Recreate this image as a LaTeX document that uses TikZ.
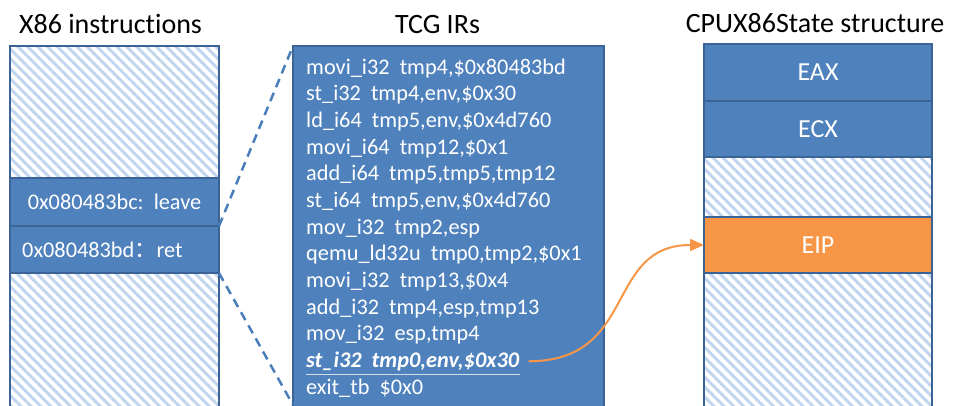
\documentclass[tikz,border=0pt]{standalone}
\usepackage{fontspec}
\setmainfont[Ligatures={NoCommon,NoRequired}]{Carlito}
\newfontfamily\cjkfont{Noto Sans CJK SC}
\usetikzlibrary{patterns.meta,arrows.meta,calc}
\definecolor{boxblue}{HTML}{4F81BD}
\definecolor{edgeblue}{HTML}{3B6395}
\definecolor{hatchblue}{HTML}{C2D5EE}
\definecolor{eiporange}{HTML}{F79646}
\definecolor{dashblue}{HTML}{4A7EBB}
\definecolor{ulgray}{HTML}{D6DCE6}
\begin{document}
\begin{tikzpicture}[x=1pt,y=-1pt,
  cell/.style={draw=edgeblue,line width=2.5pt,fill=boxblue,anchor=north west,inner sep=0pt,outer sep=0pt},
  hatchcell/.style={draw=edgeblue,line width=2.5pt,pattern={Lines[angle=-45,distance=7pt,line width=3pt]},pattern color=hatchblue,anchor=north west,inner sep=0pt,outer sep=0pt},
  title/.style={anchor=base,font=\fontsize{28}{30}\selectfont,text=black,inner sep=0pt},
  ir/.style={anchor=base west,font=\fontsize{22.3}{26}\selectfont,text=white,inner sep=0pt},
  lbl/.style={font=\fontsize{22.3}{26}\selectfont,text=white,inner sep=0pt},
  reg/.style={font=\fontsize{26}{28}\selectfont,text=white,inner sep=0pt},
  dashline/.style={dashblue,line width=2.5pt,dash pattern=on 9pt off 6pt},
  flow/.style={eiporange,line width=2pt,-{Triangle[length=14pt,width=12pt]}}]
\useasboundingbox (0,0) rectangle (954,405);
\clip (0,0) rectangle (954,405);
% titles
\node[title] (t1) at (110.5,33) {X86 instructions};
\node[title] (t2) at (437.5,33) {TCG IRs};
\node[title] (t3) at (815,32) {CPUX86State structure};
% left column
\node[hatchcell,minimum width=209pt,minimum height=132pt] (xtop) at (10,46) {};
\node[hatchcell,minimum width=209pt,minimum height=150pt] (xbot) at (10,273) {};
\node[cell,minimum width=209pt,minimum height=48pt] (leave) at (10,178) {};
\node[cell,minimum width=209pt,minimum height=47pt] (ret) at (10,226) {};
\node[lbl] (leavetxt) at (leave.center) {0x080483bc:~~leave};
\node[lbl,anchor=west] (rettxt) at (22,250) {0x080483bd{\cjkfont ：}ret};
% TCG box
\node[cell,minimum width=311pt,minimum height=374pt] (tcg) at (293,46) {};
\node[ir] (l1) at (306,74) {movi\_i32~~tmp4,\$0x80483bd};
\node[ir] (l2) at (306,100.67) {st\_i32~~tmp4,env,\$0x30};
\node[ir] (l3) at (306,127.33) {ld\_i64~~tmp5,env,\$0x4d760};
\node[ir] (l4) at (306,154) {movi\_i64~~tmp12,\$0x1};
\node[ir] (l5) at (306,180.67) {add\_i64~~tmp5,tmp5,tmp12};
\node[ir] (l6) at (306,207.33) {st\_i64~~tmp5,env,\$0x4d760};
\node[ir] (l7) at (306,234) {mov\_i32~~tmp2,esp};
\node[ir] (l8) at (306,260.67) {qemu\_ld32u~~tmp0,tmp2,\$0x1};
\node[ir] (l9) at (306,287.33) {movi\_i32~~tmp13,\$0x4};
\node[ir] (l10) at (306,314) {add\_i32~~tmp4,esp,tmp13};
\node[ir] (l11) at (306,340.67) {mov\_i32~~esp,tmp4};
\node[ir] (l12) at (306,367.33) {\textbf{\textit{st\_i32~~tmp0,env,\$0x30}}};
\node[ir] (l13) at (306,394) {exit\_tb~~\$0x0};
\draw[ulgray,line width=1.5pt] ([yshift=-7pt]l12.base west) -- ([yshift=-7pt]l12.base east);
% right column
\node[hatchcell,minimum width=228pt,minimum height=60pt] (rh1) at (704,157) {};
\node[hatchcell,minimum width=228pt,minimum height=150pt] (rh2) at (704,273) {};
\node[cell,minimum width=228pt,minimum height=57pt] (eax) at (704,44) {};
\node[cell,minimum width=228pt,minimum height=56pt] (ecx) at (704,101) {};
\node[cell,fill=eiporange,minimum width=228pt,minimum height=56pt] (eip) at (704,217) {};
\node[reg] (eaxtxt) at (eax.center) {EAX};
\node[reg] (ecxtxt) at (ecx.center) {ECX};
\node[reg] (eiptxt) at (eip.center) {EIP};
% connectors
\coordinate (tcglow) at (293,405);
\draw[dashline] (ret.north east) -- (tcg.north west);
\draw[dashline] (ret.south east) -- (tcglow);
\draw[flow] ([xshift=9pt]l12.east) .. controls +(110,0) and +(-100,0) .. (eip.west);
\end{tikzpicture}
\end{document}
